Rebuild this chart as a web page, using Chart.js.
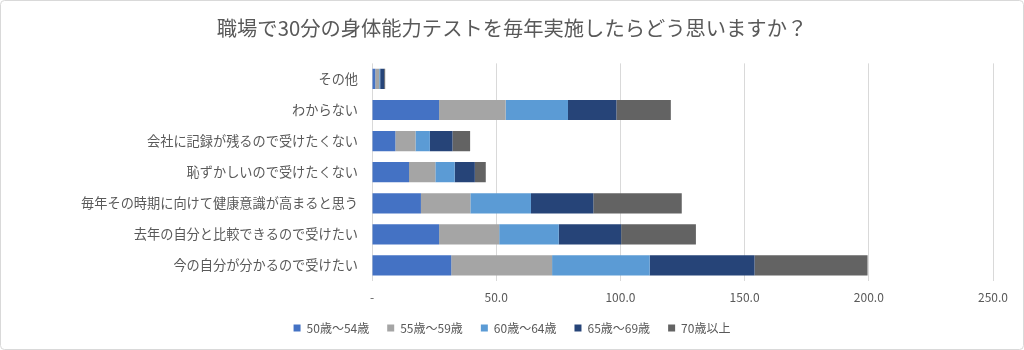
<!DOCTYPE html>
<html lang="ja">
<head>
<meta charset="utf-8">
<title>職場で30分の身体能力テスト</title>
<script src="https://cdn.jsdelivr.net/npm/chart.js@4/dist/chart.umd.min.js"></script>
<style>
  html, body { margin: 0; padding: 0; background: #fff; }
  #wrap { width: 1024px; height: 350px; }
</style>
</head>
<body>
<div id="wrap"><canvas id="chart" width="1024" height="350"></canvas></div>
<script>
// categories, top to bottom
const categories = [
  'その他',
  'わからない',
  '会社に記録が残るので受けたくない',
  '恥ずかしいので受けたくない',
  '毎年その時期に向けて健康意識が高まると思う',
  '去年の自分と比較できるので受けたい',
  '今の自分が分かるので受けたい'
];

const seriesNames = ['50歳～54歳', '55歳～59歳', '60歳～64歳', '65歳～69歳', '70歳以上'];
const age50_54 = [1.3, 27.0, 9.4, 14.9, 19.7, 27.0, 31.9];
const age55_59 = [1.6, 26.8, 8.1, 10.6, 19.9, 24.2, 40.6];
const age60_64 = [0.4, 25.1, 5.8, 7.8, 24.4, 24.0, 39.3];
const age65_69 = [1.6, 19.5, 9.1, 8.1, 25.1, 25.1, 42.2];
const age70up  = [0.4, 21.9, 7.1, 4.4, 35.6, 30.1, 45.5];

const colors = ['#4472C4', '#A5A5A5', '#5B9BD5', '#264478', '#636363'];
const xTicks = [0, 50, 100, 150, 200, 250];

const font = '"Noto Sans CJK JP", "Noto Sans", sans-serif';
const textColor = '#595959';

// frame round the whole chart, like the Excel chart area
const framePlugin = {
  id: 'frame',
  beforeDraw(chart) {
    const c = chart.ctx;
    c.save();
    c.fillStyle = '#fff';
    c.fillRect(0, 0, chart.width, chart.height);
    c.restore();
  },
  afterDraw(chart) {
    const c = chart.ctx;
    c.save();
    c.strokeStyle = '#d9d9d9';
    c.lineWidth = 1;
    c.beginPath();
    c.roundRect(0.5, 0.5, chart.width - 1, chart.height - 1, 4);
    c.stroke();
    c.restore();
  }
};

const allSeries = [age50_54, age55_59, age60_64, age65_69, age70up];

new Chart(document.getElementById('chart').getContext('2d'), {
  type: 'bar',
  data: {
    labels: categories,
    datasets: allSeries.map((vals, i) => ({
      label: seriesNames[i],
      data: vals,
      backgroundColor: colors[i],
      borderWidth: 0,
      categoryPercentage: 1,
      barPercentage: 0.65
    }))
  },
  options: {
    indexAxis: 'y',
    responsive: false,
    animation: false,
    layout: { padding: { left: 31, right: 31, top: 0, bottom: 6 } },
    scales: {
      x: {
        stacked: true,
        min: 0,
        max: 250,
        afterBuildTicks(scale) { scale.ticks = xTicks.map(v => ({ value: v })); },
        afterFit(scale) { scale.height = 23; },
        grid: { color: '#d9d9d9', drawTicks: false },
        border: { display: false },
        ticks: {
          color: textColor,
          font: { family: font, size: 12 },
          padding: 9,
          callback: v => v === 0 ? '-' : v.toFixed(1)
        }
      },
      y: {
        stacked: true,
        grid: { display: false, drawTicks: false },
        border: { display: false },
        afterFit(scale) { scale.width = 341; },
        ticks: {
          color: textColor,
          font: { family: font, size: 13.2 },
          padding: 14
        }
      }
    },
    plugins: {
      title: {
        display: true,
        text: '職場で30分の身体能力テストを毎年実施したらどう思いますか？',
        color: textColor,
        font: { family: font, size: 20.3, weight: 'normal' },
        padding: { top: 16, bottom: 23 }
      },
      legend: {
        position: 'bottom',
        labels: {
          color: textColor,
          font: { family: font, size: 12 },
          boxWidth: 7,
          boxHeight: 7,
          padding: 18
        }
      },
      tooltip: { enabled: false }
    }
  },
  plugins: [framePlugin]
});
</script>
</body>
</html>
